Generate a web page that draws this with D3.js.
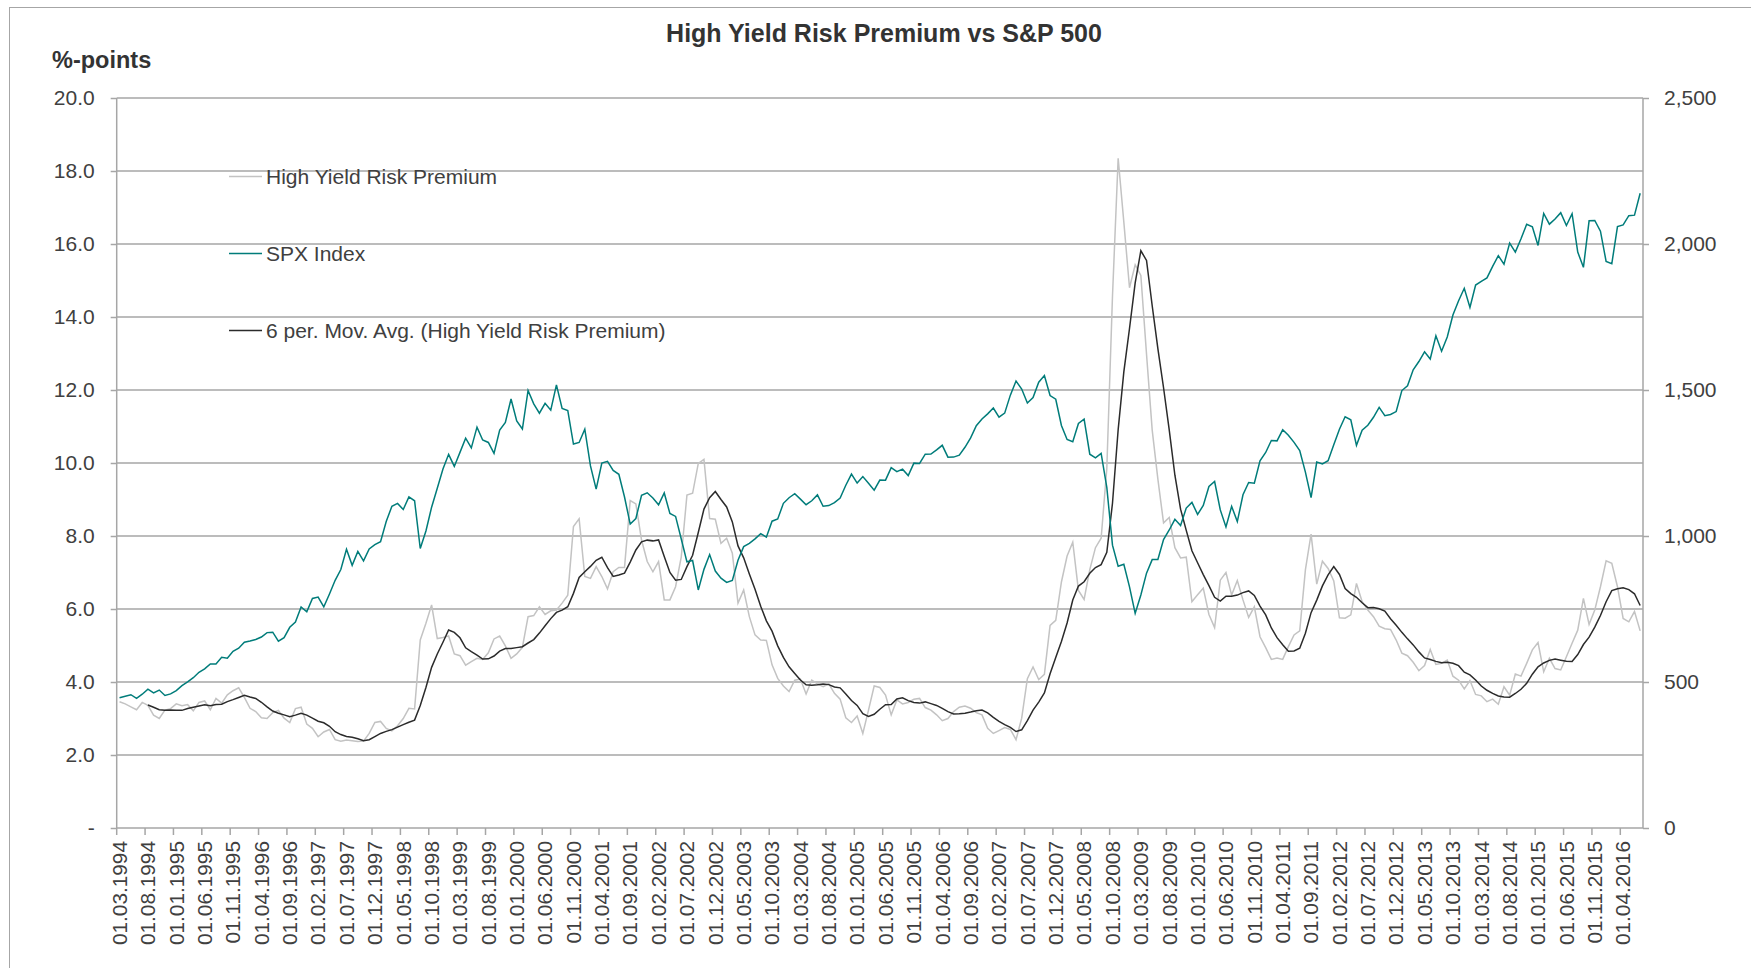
<!DOCTYPE html>
<html>
<head>
<meta charset="utf-8">
<script src="https://cdn.jsdelivr.net/npm/d3@7/dist/d3.min.js"></script>
<style>
    body { margin: 0; background: #fff; }
    svg { display: block; font-family: "Liberation Sans", Arial, sans-serif; }
</style>
</head>
<body>
<svg id="chart" width="1751" height="968"></svg>
<script>
// monthly values, 01.03.1994 .. 01.07.2016
const hyPremium = [
    3.46, 3.40, 3.32, 3.24, 3.44, 3.36, 3.09, 3.00, 3.23, 3.27,
    3.40, 3.35, 3.38, 3.21, 3.44, 3.48, 3.24, 3.55, 3.42, 3.65,
    3.76, 3.84, 3.58, 3.28, 3.19, 3.02, 3.00, 3.16, 3.22, 3.01,
    2.89, 3.27, 3.31, 2.85, 2.73, 2.50, 2.63, 2.70, 2.42, 2.38,
    2.41, 2.39, 2.37, 2.38, 2.59, 2.89, 2.92, 2.73, 2.66, 2.80,
    3.00, 3.28, 3.26, 5.15, 5.61, 6.11, 5.19, 5.22, 5.26, 4.77,
    4.72, 4.46, 4.56, 4.65, 4.62, 4.80, 5.18, 5.26, 4.99, 4.65,
    4.77, 4.95, 5.79, 5.82, 6.06, 5.85, 5.95, 5.97, 6.16, 6.38,
    8.26, 8.47, 6.89, 6.84, 7.16, 6.89, 6.55, 7.02, 7.14, 7.14,
    8.97, 8.88, 7.89, 7.30, 7.02, 7.30, 6.25, 6.25, 6.61, 7.43,
    9.12, 9.17, 9.99, 10.10, 8.48, 8.46, 7.80, 7.94, 7.53, 6.16,
    6.52, 5.79, 5.29, 5.15, 5.14, 4.47, 4.10, 3.89, 3.74, 4.05,
    4.08, 3.67, 4.05, 3.95, 3.87, 3.95, 3.69, 3.53, 3.02, 2.89,
    3.07, 2.59, 3.23, 3.89, 3.85, 3.64, 3.10, 3.51, 3.40, 3.44,
    3.53, 3.55, 3.30, 3.23, 3.10, 2.94, 3.00, 3.19, 3.31, 3.34,
    3.28, 3.16, 3.10, 2.73, 2.59, 2.67, 2.75, 2.70, 2.42, 3.01,
    4.09, 4.41, 4.07, 4.21, 5.55, 5.69, 6.74, 7.45, 7.83, 6.51,
    6.26, 7.08, 7.68, 7.94, 9.85, 14.57, 18.35, 16.60, 14.80, 15.43,
    15.14, 12.98, 10.90, 9.56, 8.36, 8.51, 7.68, 7.40, 7.42, 6.20,
    6.39, 6.57, 5.85, 5.49, 6.79, 7.00, 6.38, 6.78, 6.25, 5.77,
    6.06, 5.24, 4.94, 4.62, 4.66, 4.62, 4.97, 5.29, 5.40, 7.07,
    8.05, 6.68, 7.31, 7.11, 6.77, 5.76, 5.75, 5.84, 6.70, 6.20,
    5.97, 5.79, 5.53, 5.46, 5.44, 5.15, 4.79, 4.72, 4.54, 4.31,
    4.45, 4.89, 4.48, 4.51, 4.60, 4.16, 4.05, 3.81, 4.04, 3.66,
    3.62, 3.46, 3.53, 3.39, 3.87, 3.64, 4.22, 4.16, 4.51, 4.88,
    5.08, 4.28, 4.65, 4.37, 4.33, 4.69, 5.06, 5.42, 6.29, 5.58,
    5.97, 6.61, 7.32, 7.25, 6.61, 5.74, 5.65, 5.93, 5.40
]

const spx = [
    445.77, 450.91, 456.50, 444.27, 458.26, 475.49, 462.69, 472.35, 453.69, 459.27,
    470.42, 487.39, 500.71, 514.71, 533.40, 544.75, 562.06, 561.88, 584.41, 581.50, 605.37, 615.93,
    636.02, 640.43, 645.50, 654.17, 669.12, 670.63, 639.95, 651.99, 687.31, 705.27, 757.02, 740.74,
    786.16, 790.82, 757.12, 801.34, 848.28, 885.14, 954.31, 899.47, 947.28, 914.62, 955.40, 970.43,
    980.28, 1049.34, 1101.75, 1111.75, 1090.82, 1133.84, 1120.67, 957.28, 1017.01, 1098.67, 1163.63, 1229.23,
    1279.64, 1238.33, 1286.37, 1335.18, 1301.84, 1372.71, 1328.72, 1320.41, 1282.71, 1362.93, 1388.91, 1469.25,
    1394.46, 1366.42, 1498.58, 1452.43, 1420.60, 1454.60, 1430.83, 1517.68, 1436.51, 1429.40, 1314.95, 1320.28,
    1366.01, 1239.94, 1160.33, 1249.46, 1255.82, 1224.42, 1211.23, 1133.58, 1040.94, 1059.78, 1139.45, 1148.08,
    1130.20, 1106.73, 1147.39, 1076.92, 1067.14, 989.82, 911.62, 916.07, 815.28, 885.76, 936.31, 879.82,
    855.70, 841.15, 848.18, 916.92, 963.59, 974.50, 990.31, 1008.01, 995.97, 1050.71, 1058.20, 1111.92,
    1131.13, 1144.94, 1126.21, 1107.30, 1120.68, 1140.84, 1101.72, 1104.24, 1114.58, 1130.20, 1173.82, 1211.92,
    1181.27, 1203.60, 1180.59, 1156.85, 1191.50, 1191.33, 1234.18, 1220.33, 1228.81, 1207.01, 1249.48, 1248.29,
    1280.08, 1280.66, 1294.83, 1310.61, 1270.09, 1270.20, 1276.66, 1303.82, 1335.85, 1377.94, 1400.63, 1418.30,
    1438.24, 1406.82, 1420.86, 1482.37, 1530.62, 1503.35, 1455.27, 1473.99, 1526.75, 1549.38, 1481.14, 1468.36,
    1378.55, 1330.63, 1322.70, 1385.59, 1400.38, 1280.00, 1267.38, 1282.83, 1166.36, 968.75, 896.24, 903.25,
    825.88, 735.09, 797.87, 872.81, 919.14, 919.32, 987.48, 1020.62, 1057.08, 1036.19, 1095.63, 1115.10,
    1073.87, 1104.49, 1169.43, 1186.69, 1089.41, 1030.71, 1101.60, 1049.33, 1141.20, 1183.26, 1180.55, 1257.64,
    1286.12, 1327.22, 1325.83, 1363.61, 1345.20, 1320.64, 1292.28, 1218.89, 1131.42, 1253.30, 1246.96, 1257.60,
    1312.41, 1365.68, 1408.47, 1397.91, 1310.33, 1362.16, 1379.32, 1406.58, 1440.67, 1412.16, 1416.18, 1426.19,
    1498.11, 1514.68, 1569.19, 1597.57, 1630.74, 1606.28, 1685.73, 1632.97, 1681.55, 1756.54, 1805.81, 1848.36,
    1782.59, 1859.45, 1872.34, 1883.95, 1923.57, 1960.23, 1930.67, 2003.37, 1972.29, 2018.05, 2067.56, 2058.90,
    1994.99, 2104.50, 2067.89, 2085.51, 2107.39, 2063.11, 2103.84, 1972.18, 1920.03, 2079.36, 2080.41, 2043.94,
    1940.24, 1932.23, 2059.74, 2065.30, 2096.95, 2098.86, 2173.60
]

// a label on every 5th month
const xTickLabels = [
    '01.03.1994', '01.08.1994', '01.01.1995', '01.06.1995', '01.11.1995', '01.04.1996',
    '01.09.1996', '01.02.1997', '01.07.1997', '01.12.1997', '01.05.1998', '01.10.1998',
    '01.03.1999', '01.08.1999', '01.01.2000', '01.06.2000', '01.11.2000', '01.04.2001',
    '01.09.2001', '01.02.2002', '01.07.2002', '01.12.2002', '01.05.2003', '01.10.2003',
    '01.03.2004', '01.08.2004', '01.01.2005', '01.06.2005', '01.11.2005', '01.04.2006',
    '01.09.2006', '01.02.2007', '01.07.2007', '01.12.2007', '01.05.2008', '01.10.2008',
    '01.03.2009', '01.08.2009', '01.01.2010', '01.06.2010', '01.11.2010', '01.04.2011',
    '01.09.2011', '01.02.2012', '01.07.2012', '01.12.2012', '01.05.2013', '01.10.2013',
    '01.03.2014', '01.08.2014', '01.01.2015', '01.06.2015', '01.11.2015', '01.04.2016'
]
const labelStep = 5

const leftTicks = [0, 2, 4, 6, 8, 10, 12, 14, 16, 18, 20]
const rightTicks = [0, 500, 1000, 1500, 2000, 2500]
const legendNames = ['High Yield Risk Premium', 'SPX Index', '6 per. Mov. Avg. (High Yield Risk Premium)']

// trendline, as Excel draws it: 6 period moving average of the premium
const period = 6
const hyMovAvg = hyPremium.map((_, i) => i < period - 1 ? null : d3.mean(hyPremium.slice(i - period + 1, i + 1)))

const colors = { hy: '#c3c3c3', spx: '#007c7a', ma: '#2b2b2b', grid: '#a6a6a6', text: '#404040' }
const plot = { left: 116.7, right: 1643, top: 98, bottom: 828 }

const svg = d3.select('#chart')

// chart frame
svg.append('rect')
    .attr('x', 9.5).attr('y', 7.5)
    .attr('width', 1800).attr('height', 1000)
    .attr('fill', 'none').attr('stroke', '#a6a6a6')

const x = d3.scaleBand(d3.range(hyPremium.length), [plot.left, plot.right]).padding(0)
const cx = i => x(i) + x.bandwidth() / 2
const yL = d3.scaleLinear([0, 20], [plot.bottom, plot.top])
const yR = d3.scaleLinear([0, 2500], [plot.bottom, plot.top])

// gridlines
svg.append('g')
    .selectAll('line')
    .data(leftTicks.filter(d => d > 0))
    .join('line')
    .attr('x1', plot.left).attr('x2', plot.right)
    .attr('y1', d => yL(d)).attr('y2', d => yL(d))
    .attr('stroke', colors.grid).attr('stroke-width', 1.5)

function styleAxis(g) {
    g.select('.domain').remove()
    g.selectAll('.tick line').attr('stroke', colors.grid).attr('stroke-width', 1.5)
    g.selectAll('.tick text').attr('fill', colors.text).attr('font-size', 21)
}

// left axis
svg.append('g')
    .attr('transform', `translate(${plot.left},0)`)
    .call(d3.axisLeft(yL).tickValues(leftTicks).tickSize(6).tickPadding(16)
        .tickFormat(d => d === 0 ? '-' : d3.format('.1f')(d)))
    .call(styleAxis)

// right axis
svg.append('g')
    .attr('transform', `translate(${plot.right},0)`)
    .call(d3.axisRight(yR).tickValues(rightTicks).tickSize(6).tickPadding(15)
        .tickFormat(d3.format(',')))
    .call(styleAxis)

// bottom axis: ticks at category edges, labels at category centres
const labelIdx = xTickLabels.map((_, k) => k * labelStep)
svg.append('g')
    .selectAll('line')
    .data(labelIdx)
    .join('line')
    .attr('x1', d => x(d)).attr('x2', d => x(d))
    .attr('y1', plot.bottom).attr('y2', plot.bottom + 7)
    .attr('stroke', colors.grid).attr('stroke-width', 1.5)

svg.append('g')
    .selectAll('text')
    .data(labelIdx)
    .join('text')
    .attr('transform', d => `translate(${cx(d)},${plot.bottom + 13}) rotate(-90)`)
    .attr('text-anchor', 'end')
    .attr('dy', '0.35em')
    .attr('fill', colors.text)
    .attr('font-size', 20.8)
    .text((_, k) => xTickLabels[k])

// axis lines
svg.append('g')
    .attr('stroke', colors.grid).attr('stroke-width', 1.5)
    .call(g => g.append('line').attr('x1', plot.left).attr('x2', plot.left).attr('y1', plot.top).attr('y2', plot.bottom))
    .call(g => g.append('line').attr('x1', plot.right).attr('x2', plot.right).attr('y1', plot.top).attr('y2', plot.bottom))
    .call(g => g.append('line').attr('x1', plot.left).attr('x2', plot.right).attr('y1', plot.bottom).attr('y2', plot.bottom))

// series
const lineL = d3.line().defined(d => d != null).x((_, i) => cx(i)).y(d => yL(d))
const lineR = d3.line().x((_, i) => cx(i)).y(d => yR(d))

svg.append('path').datum(hyPremium)
    .attr('d', lineL).attr('fill', 'none').attr('stroke', colors.hy).attr('stroke-width', 1.5)
svg.append('path').datum(hyMovAvg)
    .attr('d', lineL).attr('fill', 'none').attr('stroke', colors.ma).attr('stroke-width', 1.5)
svg.append('path').datum(spx)
    .attr('d', lineR).attr('fill', 'none').attr('stroke', colors.spx).attr('stroke-width', 1.5)

// legend
const legendColors = [colors.hy, colors.spx, colors.ma]
const legendY = [176.5, 253.5, 330.5]
const legend = svg.append('g')
    .selectAll('g')
    .data(legendNames)
    .join('g')
    .attr('transform', (_, i) => `translate(229,${legendY[i]})`)
legend.append('line')
    .attr('x1', 0).attr('x2', 33)
    .attr('stroke', (_, i) => legendColors[i]).attr('stroke-width', 1.5)
legend.append('text')
    .attr('x', 37).attr('dy', '0.35em')
    .attr('fill', colors.text).attr('font-size', 21)
    .text(d => d)

// titles
svg.append('text')
    .attr('x', 884).attr('y', 42)
    .attr('text-anchor', 'middle')
    .attr('font-size', 25).attr('font-weight', 'bold')
    .attr('fill', '#333')
    .text('High Yield Risk Premium vs S&P 500')

svg.append('text')
    .attr('x', 52).attr('y', 68)
    .attr('font-size', 23.5).attr('font-weight', 'bold')
    .attr('fill', '#333')
    .text('%-points')
</script>
</body>
</html>
